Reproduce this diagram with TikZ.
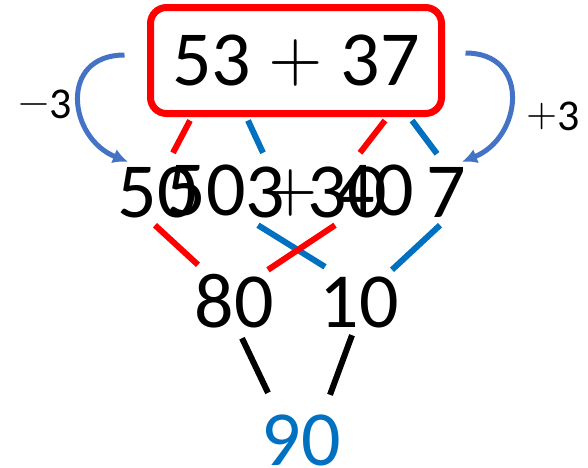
\documentclass[tikz,border=0pt]{standalone}
\usepackage{fontspec}
\setmainfont{Carlito}
\newfontfamily\opfont{lmroman10-regular.otf}
\usetikzlibrary{arrows.meta}
\definecolor{splitRed}{HTML}{FF0000}
\definecolor{splitBlue}{HTML}{0070C0}
\definecolor{shiftBlue}{HTML}{4472C4}
\newcommand{\opplus}{\raisebox{5pt}{\opfont\fontsize{70}{70}\selectfont +}}
\newcommand{\lblplus}{\raisebox{4pt}{\opfont\fontsize{40}{40}\selectfont +}}
\newcommand{\lblminus}{\raisebox{4pt}{\opfont\fontsize{40}{40}\selectfont −}}

\begin{document}
\begin{tikzpicture}[
    x=1pt, y=-1pt,
    num/.style={font=\fontsize{78}{80}\selectfont, inner sep=0pt, text height=50pt, text depth=0pt},
    lbl/.style={font=\fontsize{44}{46}\selectfont, inner sep=0pt, text height=28pt, text depth=0pt},
    sumbox/.style={num, draw=splitRed, line width=7pt, rounded corners=16pt, fill=white, minimum width=291pt, minimum height=106pt},
    redln/.style={draw=splitRed, line width=6pt},
    blueln/.style={draw=splitBlue, line width=6pt},
    blackln/.style={draw=black, line width=6pt},
    jump/.style={draw=shiftBlue, line width=5pt, -{Latex[length=15pt, width=15pt]}}
]
\useasboundingbox (0,0) rectangle (588,467);

\node[sumbox] (sum) at (296,60.5) {53 \opplus{} 37};

\node[num] (a50) at (157.5,192) {50};
\node[num] (a3) at (265,192) {3};
\node[num] (a30) at (347.5,192) {30};
\node[num] (a7) at (446.5,192) {7};
\node[num] (alt) at (290.5,190) {50 \opplus{} 40};

\node[num] (s80) at (234,302) {80};
\node[num] (s10) at (359,302) {10};
\node[num, text=splitBlue] (tot) at (301,440) {90};

\node[lbl] (minus) at (45,104) {\lblminus3};
\node[lbl] (plus) at (553,116) {\lblplus3};

\draw[redln] ([xshift=-106pt,yshift=-3.5pt]sum.south) -- ([xshift=15.5pt,yshift=14pt]a50.north);
\draw[blueln] ([xshift=-48pt,yshift=-3.5pt]sum.south) -- ([xshift=-2pt,yshift=14pt]a3.north);
\draw[redln] ([xshift=89pt,yshift=-3.5pt]sum.south) -- ([xshift=12.5pt,yshift=14pt]a30.north);
\draw[blueln] ([xshift=116pt,yshift=-3.5pt]sum.south) -- ([xshift=-9.5pt,yshift=13pt]a7.north);

\draw[redln] ([xshift=-2.5pt,yshift=-8pt]a50.south) -- ([xshift=-36pt,yshift=12pt]s80.north);
\draw[blueln] ([xshift=-7pt,yshift=-8pt]a3.south) -- ([xshift=-34pt,yshift=10pt]s10.north);
\draw[redln] ([xshift=-12.5pt,yshift=-8pt]a30.south) -- ([xshift=34pt,yshift=7pt]s80.north);
\draw[blueln] ([xshift=-6.5pt,yshift=-8pt]a7.south) -- ([xshift=33pt,yshift=7pt]s10.north);

\draw[blackln] ([xshift=8pt,yshift=-11pt]s80.south) -- ([xshift=-33pt,yshift=22pt]tot.north);
\draw[blackln] ([xshift=-7pt,yshift=-8pt]s10.south) -- ([xshift=29pt,yshift=20pt]tot.north);

\draw[jump] ([xshift=-22.5pt,yshift=5.5pt]sum.west) .. controls +(-66,0) and +(-60,-24) .. ([xshift=-29.5pt,yshift=5pt]a50.north);
\draw[jump] ([xshift=20.5pt,yshift=7.5pt]sum.east) .. controls +(66,0) and +(60,-24) .. ([xshift=15.5pt,yshift=5pt]a7.north);

\end{tikzpicture}
\end{document}
